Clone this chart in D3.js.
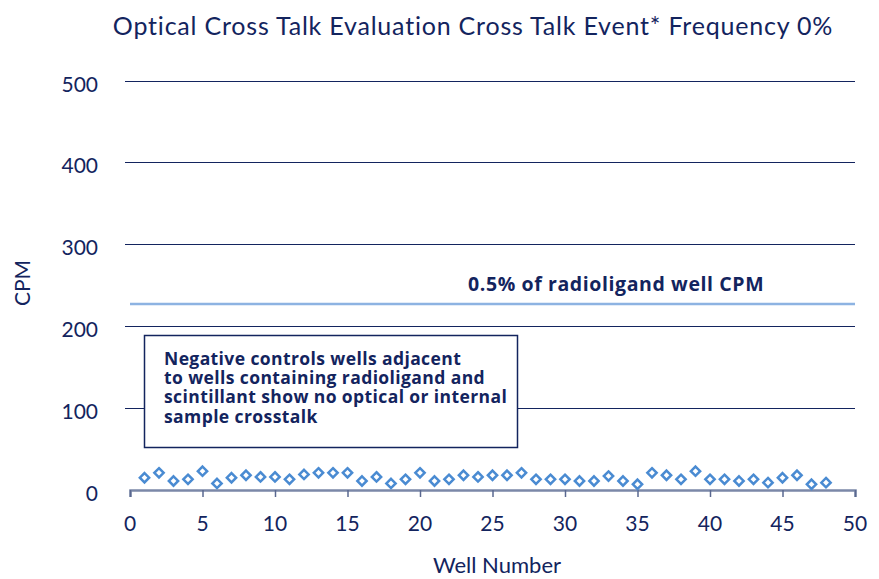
<!DOCTYPE html>
<html>
<head>
<meta charset="utf-8">
<script src="https://cdn.jsdelivr.net/npm/d3@7"></script>
<style>
  body { margin: 0; background: #fff; }
  svg { display: block; font-family: Lato, "Noto Sans", sans-serif; }
</style>
</head>
<body>
<div id="chart"></div>
<script>
// data
var wells = d3.range(1, 49);
var cpm = [15, 21, 11, 13, 23, 8, 15, 18, 16, 16, 13, 19, 21, 21, 21, 11,
           16, 8, 13, 21, 11, 13, 18, 16, 18, 18, 21, 13, 13, 13, 11, 11,
           17, 11, 7, 21, 18, 13, 23, 13, 13, 11, 13, 9, 15, 18, 7, 9];
var yTicks = [0, 100, 200, 300, 400, 500];
var xTicks = [0, 5, 10, 15, 20, 25, 30, 35, 40, 45, 50];
var threshold = 227;
var thresholdLabel = "0.5% of radioligand well CPM";
var noteLines = ["Negative controls wells adjacent",
                 "to wells containing radioligand and",
                 "scintillant show no optical or internal",
                 "sample crosstalk"];
var title = "Optical Cross Talk Evaluation Cross Talk Event* Frequency 0%";

var navy = "#13245e";
var width = 879, height = 579;

var svg = d3.select("#chart").append("svg")
  .attr("width", width)
  .attr("height", height);

var x = d3.scaleLinear().domain([0, 50]).range([130, 855]);
var y = d3.scaleLinear().domain([0, 500]).range([490, 80.5]);

// title
svg.append("text")
  .attr("x", 473).attr("y", 35)
  .attr("text-anchor", "middle")
  .attr("fill", navy)
  .style("font-size", "25px")
  .style("letter-spacing", "0.8px")
  .text(title);

// gridlines
svg.append("g")
  .selectAll("line")
  .data(yTicks.filter(d => d > 0))
  .enter().append("line")
  .attr("x1", 125).attr("x2", x(50))
  .attr("y1", d => Math.round(y(d)) + 0.5)
  .attr("y2", d => Math.round(y(d)) + 0.5)
  .attr("stroke", navy)
  .attr("stroke-width", 1);

// y labels
svg.append("g")
  .selectAll("text")
  .data(yTicks)
  .enter().append("text")
  .attr("x", 98)
  .attr("y", d => y(d) + 11)
  .attr("text-anchor", "end")
  .attr("fill", navy)
  .style("font-size", "21px")
  .text(d => d);

svg.append("text")
  .attr("transform", "translate(30,283) rotate(-90)")
  .attr("text-anchor", "middle")
  .attr("fill", navy)
  .style("font-size", "21px")
  .text("CPM");

// threshold line
svg.append("line")
  .attr("x1", x(0)).attr("x2", x(50))
  .attr("y1", y(threshold)).attr("y2", y(threshold))
  .attr("stroke", "#8db3e2")
  .attr("stroke-width", 2.5);

svg.append("text")
  .attr("x", 468).attr("y", 291)
  .attr("fill", navy)
  .style("font-family", "'Open Sans', sans-serif")
  .style("font-size", "19.5px")
  .style("letter-spacing", "0.6px")
  .style("font-weight", "bold")
  .text(thresholdLabel);

// note box
var note = svg.append("g");
note.append("rect")
  .attr("x", 144.5).attr("y", 335.5)
  .attr("width", 373).attr("height", 112)
  .attr("fill", "#fff")
  .attr("stroke", navy)
  .attr("stroke-width", 1.5);
note.selectAll("text")
  .data(noteLines)
  .enter().append("text")
  .attr("x", 164)
  .attr("y", (d, i) => 365 + i * 19.2)
  .attr("fill", navy)
  .style("font-family", "'Open Sans', sans-serif")
  .style("font-size", "17.5px")
  .style("letter-spacing", "0.4px")
  .style("font-weight", "bold")
  .text(d => d);

// x axis
var xAxis = d3.axisBottom(x).tickValues(xTicks).tickSize(7).tickFormat("");
var gx = svg.append("g")
  .attr("transform", "translate(0," + y(0) + ")")
  .call(xAxis);
gx.select(".domain").attr("stroke", "#7b88a8").attr("stroke-width", 2.5);
gx.selectAll(".tick line").attr("stroke", "#5a6890").attr("stroke-width", 1.5);

svg.append("g")
  .selectAll("text")
  .data(xTicks)
  .enter().append("text")
  .attr("x", d => x(d))
  .attr("y", 531)
  .attr("text-anchor", "middle")
  .attr("fill", navy)
  .style("font-size", "21px")
  .text(d => d);

svg.append("text")
  .attr("x", 497).attr("y", 573)
  .attr("text-anchor", "middle")
  .attr("fill", navy)
  .style("font-size", "22px")
  .text("Well Number");

// points
svg.append("g")
  .selectAll("path")
  .data(wells)
  .enter().append("path")
  .attr("transform", (d, i) => "translate(" + x(d) + "," + y(cpm[i]) + ")")
  .attr("d", d3.symbol().type(d3.symbolDiamond2).size(55))
  .attr("fill", "#fff")
  .attr("stroke", "#4a8bd2")
  .attr("stroke-width", 2.5);
</script>
</body>
</html>
